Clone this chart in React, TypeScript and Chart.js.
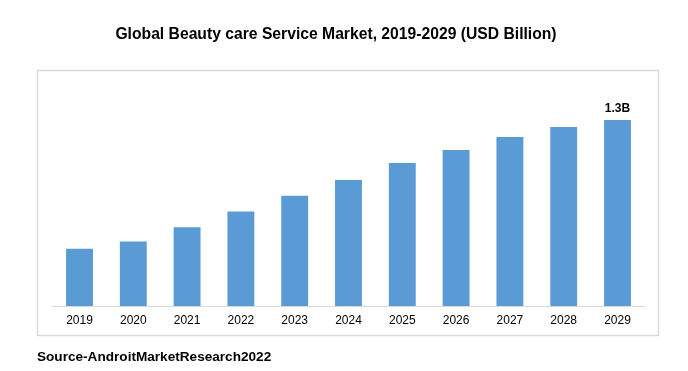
import React, { useEffect, useRef } from "react";
import { Chart, registerables } from "chart.js";

Chart.register(...registerables);

const categories = ["2019", "2020", "2021", "2022", "2023", "2024", "2025", "2026", "2027", "2028", "2029"];
const marketValues = [0.4, 0.45, 0.55, 0.66, 0.77, 0.88, 1.0, 1.09, 1.18, 1.25, 1.3];
const valueLabels = ["", "", "", "", "", "", "", "", "", "", "1.3B"];
const titleText = "Global Beauty care Service Market, 2019-2029 (USD Billion)";
const sourceText = "Source-AndroitMarketResearch2022";

const FONT = "'Liberation Sans', Arial, sans-serif";

const decorPlugin = {
  id: "decor",
  beforeDraw(chart: any) {
    const { ctx } = chart;
    ctx.save();
    ctx.fillStyle = "#ffffff";
    ctx.fillRect(0, 0, chart.width, chart.height);
    ctx.strokeStyle = "#d9d9d9";
    ctx.lineWidth = 1.5;
    ctx.strokeRect(37.5, 70.5, 621, 265);
    ctx.restore();
  },
  afterDraw(chart: any) {
    const { ctx } = chart;
    ctx.save();
    ctx.fillStyle = "#000000";
    ctx.textBaseline = "middle";
    ctx.textAlign = "center";
    ctx.font = `bold 15.7px ${FONT}`;
    ctx.fillText(titleText, 336, 35);
    ctx.textAlign = "left";
    ctx.font = `bold 13.6px ${FONT}`;
    ctx.fillText(sourceText, 37, 357);
    const meta = chart.getDatasetMeta(0);
    ctx.textAlign = "center";
    ctx.textBaseline = "alphabetic";
    ctx.font = `bold 12px ${FONT}`;
    meta.data.forEach((bar: any, i: number) => {
      if (valueLabels[i]) ctx.fillText(valueLabels[i], bar.x, bar.y - 8);
    });
    ctx.restore();
  },
};

export default function App() {
  const ref = useRef<HTMLCanvasElement>(null);
  useEffect(() => {
    if (!ref.current) return;
    const chart = new Chart(ref.current, {
      type: "bar",
      data: {
        labels: categories,
        datasets: [
          {
            data: marketValues,
            backgroundColor: "#5b9bd5",
            borderWidth: 0,
            categoryPercentage: 1,
            barPercentage: 0.5,
          },
        ],
      },
      options: {
        responsive: false,
        animation: false,
        layout: { padding: { left: 52.6, right: 43.6, top: 77, bottom: 36.6 } },
        plugins: { legend: { display: false }, title: { display: false }, tooltip: { enabled: false } },
        scales: {
          x: {
            grid: { display: false, drawTicks: false },
            border: { display: true, color: "#d9d9d9", width: 1 },
            ticks: { color: "#000000", padding: 7, font: { family: FONT, size: 12 } },
          },
          y: { display: false, min: 0, max: 1.6 },
        },
      },
      plugins: [decorPlugin],
    });
    return () => chart.destroy();
  }, []);
  return (
    <div style={{ position: "absolute", left: 0, top: 0, width: 688, height: 371 }}>
      <canvas ref={ref} width={688} height={371} />
    </div>
  );
}
